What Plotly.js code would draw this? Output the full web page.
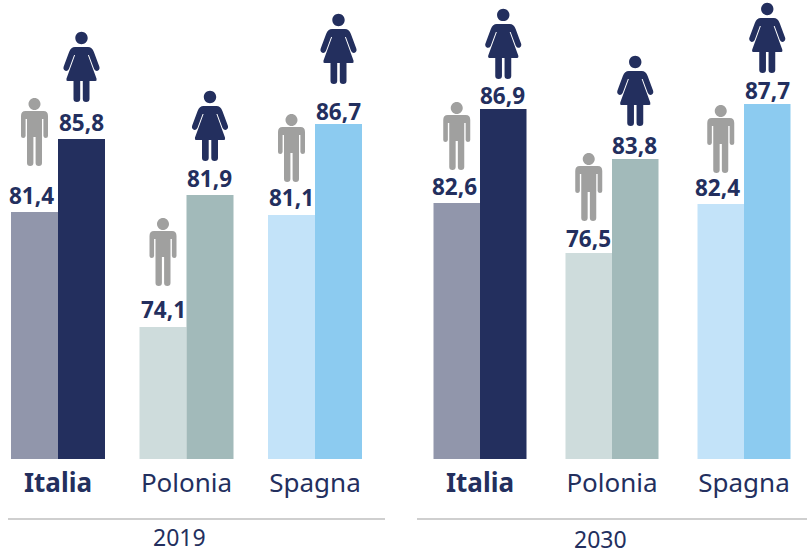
<!DOCTYPE html>
<html><head><meta charset="utf-8">
<script src="https://cdn.plot.ly/plotly-3.0.1.min.js"></script>
<style>html,body{margin:0;padding:0;background:#fff}#c{width:807px;height:548px}</style>
</head><body><div id="c"></div>
<script>
// Data
const countries = ['<b>Italia</b>', 'Polonia', 'Spagna'];
const years = ['2019', '2030'];
const men2019Labels = ['81,4', '74,1', '81,1'];
const women2019Labels = ['85,8', '81,9', '86,7'];
const men2030Labels = ['82,6', '76,5', '82,4'];
const women2030Labels = ['86,9', '83,8', '87,7'];
// Bar heights as drawn in the picture (the reference's bars are not strictly proportional to their labels)
const men2019 = [81.24, 74.05, 81.05];
const women2019 = [85.8, 82.3, 86.74];
const men2030 = [81.8, 78.68, 81.74];
const women2030 = [87.68, 84.55, 87.99];

// Styles and layout constants
const navy = '#232f5e', grey = '#a0a09f';
const menColors = ['#9196ab', '#cedcdc', '#c3e3f9'];
const womenColors = ['#232f5e', '#a2baba', '#8ccbf0'];
const labelFont = {family: 'Noto Sans', size: 22.5, color: navy, weight: 700};
const W = 807, H = 548;

const panels = [
  {xref: 'x', dom: 'x domain', x0: 8, x1: 385, first: 58, step: 128.5, barW: 47, lineEnd: 1,
   men: men2019, women: women2019, menLabels: men2019Labels, womenLabels: women2019Labels,
   manLift: [46, 41, 33], womanLift: [37, 34, 40],
   menLabelLift: [16, 18, 18], womenLabelLift: [17, 16.5, 12.5], menNudge: [-2.8, 0, 0], womenNudge: [0, -1, 0],
   yearX: 179, yearY: 536.5},
  {xref: 'x2', dom: 'x2 domain', x0: 417, x1: 807, first: 480, step: 132, barW: 46.5, lineEnd: 1,
   men: men2030, women: women2030, menLabels: men2030Labels, womenLabels: women2030Labels,
   manLift: [33, 32, 31], womanLift: [30, 33, 31],
   menLabelLift: [16.5, 14, 16], womenLabelLift: [13, 14, 13], menNudge: [-2.5, 0, -3], womenNudge: [-0.5, -1, 0],
   yearX: 600, yearY: 539}
];

// Pictograms: closed single outlines, in pixels around (cx, base), y pointing up
function disc(cx, cy, r) {
  const k = 0.5523 * r, P = (x, y) => (cx + x) + ',' + y;
  return 'M' + P(-r, cy) +
    ' C' + P(-r, cy + k) + ' ' + P(-k, cy + r) + ' ' + P(0, cy + r) +
    ' C' + P(k, cy + r) + ' ' + P(r, cy + k) + ' ' + P(r, cy) +
    ' C' + P(r, cy - k) + ' ' + P(k, cy - r) + ' ' + P(0, cy - r) +
    ' C' + P(-k, cy - r) + ' ' + P(-r, cy - k) + ' ' + P(-r, cy) + ' Z';
}
function outline(cx, base, cmds) {
  return cmds.map(c => c[0] + ' ' + c.slice(1).map(p => (cx + p[0]) + ',' + (base + p[1])).join(' ')).join(' ') + ' Z';
}
function manIcon(cx, base) {
  return disc(cx, base + 62, 6) + ' ' + outline(cx, base, [
    ['M', [-7.5, 3]], ['Q', [-7.5, 0], [-4.3, 0]], ['Q', [-1.1, 0], [-1.1, 3]],
    ['L', [-1.1, 29]], ['L', [1.1, 29]], ['L', [1.1, 3]],
    ['Q', [1.1, 0], [4.3, 0]], ['Q', [7.5, 0], [7.5, 3]],
    ['L', [7.5, 47]], ['L', [8.9, 47]], ['L', [8.9, 30]],
    ['Q', [9.2, 28], [11.2, 28]], ['Q', [13.5, 28], [13.5, 30]],
    ['L', [13.5, 50]], ['Q', [13.5, 55], [9, 55]], ['L', [-9, 55]], ['Q', [-13.5, 55], [-13.5, 50]],
    ['L', [-13.5, 30]], ['Q', [-13.5, 28], [-11.2, 28]], ['Q', [-9.2, 28], [-8.9, 30]],
    ['L', [-8.9, 47]], ['L', [-7.5, 47]]
  ]);
}
function womanIcon(cx, base) {
  return disc(cx, base + 64, 6.2) + ' ' + outline(cx, base, [
    ['M', [-8, 3]], ['Q', [-8, 0], [-4.6, 0]], ['Q', [-1.3, 0], [-1.3, 3]],
    ['L', [-1.3, 21]], ['L', [1.3, 21]], ['L', [1.3, 3]],
    ['Q', [1.3, 0], [4.6, 0]], ['Q', [8, 0], [8, 3]],
    ['L', [8, 21]], ['L', [14, 21]], ['Q', [15.6, 21], [15, 23.5]], ['L', [6.4, 47]],
    ['L', [7.4, 47]], ['L', [12.6, 33]], ['Q', [14, 30.5], [16.2, 31.2]], ['Q', [18.8, 32.5], [17.8, 35.5]],
    ['L', [12.4, 50]], ['Q', [10.5, 55], [6.5, 55]], ['L', [-6.5, 55]], ['Q', [-10.5, 55], [-12.4, 50]],
    ['L', [-17.8, 35.5]], ['Q', [-18.8, 32.5], [-16.2, 31.2]], ['Q', [-14, 30.5], [-12.6, 33]],
    ['L', [-7.4, 47]], ['L', [-6.4, 47]], ['L', [-15, 23.5]], ['Q', [-15.6, 21], [-14, 21]], ['L', [-8, 21]]
  ]);
}

const traces = [], shapes = [], annotations = [];
panels.forEach((p, i) => {
  const w = p.barW / p.step;
  [[p.men, menColors, -w], [p.women, womenColors, 0]].forEach(s => {
    traces.push({type: 'bar', x: countries, y: s[0], xaxis: p.xref, yaxis: 'y', width: w, offset: s[2],
      marker: {color: s[1], line: {width: 0}}, showlegend: false, hoverinfo: 'x+y'});
  });
  countries.forEach((c, j) => {
    const common = {type: 'path', xref: p.xref, yref: 'y', xsizemode: 'pixel', ysizemode: 'pixel',
      xanchor: j, line: {width: 0}, layer: 'above'};
    const half = p.barW / 2;
    shapes.push(Object.assign({}, common, {yanchor: p.men[j], fillcolor: grey, path: manIcon(-half, p.manLift[j])}));
    shapes.push(Object.assign({}, common, {yanchor: p.women[j], fillcolor: navy, path: womanIcon(half, p.womanLift[j])}));
    annotations.push({xref: p.xref, yref: 'y', x: j, y: p.men[j], text: p.menLabels[j], showarrow: false,
      xshift: -half + p.menNudge[j], yshift: p.menLabelLift[j], yanchor: 'middle', font: labelFont});
    annotations.push({xref: p.xref, yref: 'y', x: j, y: p.women[j], text: p.womenLabels[j], showarrow: false,
      xshift: half + p.womenNudge[j], yshift: p.womenLabelLift[j], yanchor: 'middle', font: labelFont});
  });
  shapes.push({type: 'line', xref: p.dom, yref: 'paper', x0: 0, x1: p.lineEnd,
    y0: (H - 519) / H, y1: (H - 519) / H, line: {color: '#cfcfcf', width: 2}});
  annotations.push({xref: 'paper', yref: 'paper', x: p.yearX / W, y: (H - p.yearY) / H, text: years[i],
    showarrow: false, yanchor: 'middle', xanchor: 'center', font: {family: 'Noto Sans', size: 23, color: navy}});
});

function xAxis(p) {
  return {
    domain: [p.x0 / W, p.x1 / W], anchor: 'y', type: 'category', categoryorder: 'array', categoryarray: countries,
    range: [(p.x0 - p.first) / p.step, (p.x1 - p.first) / p.step], showgrid: false, zeroline: false, showline: false,
    ticks: '', ticklen: 0, tickangle: 0, ticklabelstandoff: 6, fixedrange: true,
    tickfont: {family: 'Noto Sans', size: 26, color: navy}
  };
}

const layout = {
  width: W, height: H, margin: {l: 0, r: 0, t: 0, b: 0}, paper_bgcolor: '#fff', plot_bgcolor: '#fff',
  barmode: 'overlay', showlegend: false,
  font: {family: 'Noto Sans', color: navy},
  xaxis: xAxis(panels[0]),
  xaxis2: xAxis(panels[1]),
  yaxis: {domain: [(H - 459) / H, 1], range: [65.8, 65.8 + 459 / 16], showgrid: false, zeroline: false,
    showline: false, showticklabels: false, ticks: '', fixedrange: true},
  shapes: shapes, annotations: annotations
};
Plotly.newPlot('c', traces, layout, {displayModeBar: false, staticPlot: true});
</script></body></html>
